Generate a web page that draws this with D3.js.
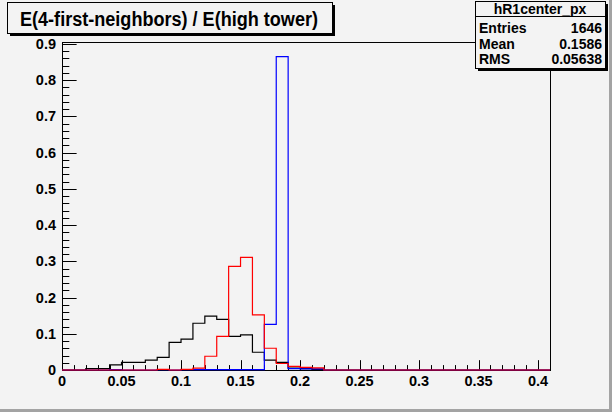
<!DOCTYPE html>
<html><head><meta charset="utf-8">
<script src="https://cdn.jsdelivr.net/npm/d3@7"></script>
<style>
html,body{margin:0;padding:0;background:#f3f3f3;}
svg{display:block;}
text{font-family:"Liberation Sans",Arial,Helvetica,sans-serif;font-weight:bold;fill:#000;}
</style></head>
<body>
<script>
// ---- data ----
const binWidth = 0.01;
const xDomain = [0, 0.41];
const yMax = 0.9055;
const xTickValues = [0, 0.05, 0.1, 0.15, 0.2, 0.25, 0.3, 0.35, 0.4];
const xTickLabels = ["0", "0.05", "0.1", "0.15", "0.2", "0.25", "0.3", "0.35", "0.4"];
const yTickValues = [0, 0.1, 0.2, 0.3, 0.4, 0.5, 0.6, 0.7, 0.8, 0.9];
const yTickLabels = ["0", "0.1", "0.2", "0.3", "0.4", "0.5", "0.6", "0.7", "0.8", "0.9"];
// 41 bins, 0.00 .. 0.41
const blackValues = [0, 0, 0.004, 0.004, 0.014, 0.021, 0.021, 0.027, 0.035, 0.076,
  0.085, 0.129, 0.149, 0.140, 0.093, 0.097, 0.049, 0.027, 0.021, 0.005,
  0.004, 0.002, 0, 0, 0, 0, 0, 0, 0, 0, 0, 0, 0, 0, 0, 0, 0, 0, 0, 0, 0];
const blueValues = [0, 0, 0, 0, 0.001, 0, 0, 0, 0.001, 0,
  0.001, 0.001, 0.001, 0.001, 0.001, 0.001, 0.001, 0.126, 0.865, 0.004,
  0.003, 0.003, 0, 0, 0, 0, 0, 0, 0, 0, 0, 0, 0, 0, 0, 0, 0, 0, 0, 0, 0];
const redValues = [0, 0, 0, 0, 0, 0, 0, 0, 0.002, 0,
  0.002, 0.005, 0.038, 0.093, 0.286, 0.311, 0.152, 0.060, 0.018, 0.010,
  0.007, 0.006, 0, 0, 0, 0, 0, 0, 0, 0, 0, 0, 0, 0, 0, 0, 0, 0, 0, 0, 0];
const titleText = "E(4-first-neighbors) / E(high tower)";
const statsName = "hR1center_px";
const statsLabels = ["Entries", "Mean", "RMS"];
const statsValues = ["1646", "0.1586", "0.05638"];

(function () {
// ---- layout ----
const W = 612, H = 412;
const pL = 62, pR = 550, pT = 42, pB = 370;

const svg = d3.select("body").append("svg").attr("width", W).attr("height", H);
svg.append("rect").attr("x", 0).attr("y", 0).attr("width", W).attr("height", H).attr("fill", "#f3f3f3");
// canvas bevel
svg.append("rect").attr("x", W - 3).attr("y", 0).attr("width", 3).attr("height", H).attr("fill", "#a3a3a3");
svg.append("rect").attr("x", 0).attr("y", H - 3).attr("width", W).attr("height", 3).attr("fill", "#a3a3a3");

const x = d3.scaleLinear().domain(xDomain).range([pL, pR]);
const y = d3.scaleLinear().domain([0, yMax]).range([pB, pT]);

// frame
svg.append("rect").attr("x", pL + 0.5).attr("y", pT + 0.5)
  .attr("width", pR - pL).attr("height", pB - pT)
  .attr("fill", "none").attr("stroke", "#000").attr("stroke-width", 1);

// ticks
const plotH = pB - pT, plotW = pR - pL;
const xMajorLen = 0.03 * plotH, yMajorLen = 0.03 * plotW;
const xMinor = d3.range(0, 42).map(i => i * 0.01);
const yMinor = d3.range(0, 46).map(i => i * 0.02).filter(v => v <= yMax);
const tg = svg.append("g").attr("stroke", "#000").attr("stroke-width", 1);
xMinor.forEach(v => {
  const isMajor = xTickValues.some(t => Math.abs(t - v) < 1e-9);
  const px = Math.round(x(v)) + 0.5;
  tg.append("line").attr("x1", px).attr("x2", px).attr("y1", pB)
    .attr("y2", pB - (isMajor ? xMajorLen : xMajorLen / 2));
});
yMinor.forEach(v => {
  const isMajor = yTickValues.some(t => Math.abs(t - v) < 1e-9);
  const py = Math.round(y(v)) + 0.5;
  tg.append("line").attr("x1", pL).attr("x2", pL + (isMajor ? yMajorLen : yMajorLen / 2))
    .attr("y1", py).attr("y2", py);
});

// tick labels
xTickValues.forEach((v, i) => {
  svg.append("text").attr("x", x(v)).attr("y", 386).attr("text-anchor", "middle")
    .attr("font-size", 14.5).text(xTickLabels[i]);
});
yTickValues.forEach((v, i) => {
  svg.append("text").attr("x", 56).attr("y", y(v) + 5).attr("text-anchor", "end")
    .attr("font-size", 14.5).text(yTickLabels[i]);
});

// histograms
function histPath(vals) {
  let d = `M${x(0)},${y(0)}`;
  vals.forEach((v, i) => {
    d += `L${x(i * binWidth)},${y(v)}L${x((i + 1) * binWidth)},${y(v)}`;
  });
  d += `L${x(vals.length * binWidth)},${y(0)}`;
  return d;
}
[[blackValues, "#000"], [blueValues, "#0000ff"], [redValues, "#ff0000"]].forEach(([vals, c]) => {
  svg.append("path").attr("d", histPath(vals)).attr("fill", "none")
    .attr("stroke", c).attr("stroke-width", 1.2);
});

// title box
svg.append("rect").attr("x", 10).attr("y", 5).attr("width", 325).attr("height", 31).attr("fill", "#000");
svg.append("rect").attr("x", 7.5).attr("y", 2.5).attr("width", 325).attr("height", 31)
  .attr("fill", "#f3f3f3").attr("stroke", "#000").attr("stroke-width", 1);
svg.append("text").attr("x", 169).attr("y", 25.5).attr("text-anchor", "middle")
  .attr("font-size", 20).attr("textLength", 298).attr("lengthAdjust", "spacingAndGlyphs")
  .text(titleText);

// stats box
const sx = 475, sy = 1, sw = 130, sh = 67;
svg.append("rect").attr("x", sx + 3).attr("y", sy + 3).attr("width", sw).attr("height", sh).attr("fill", "#000");
svg.append("rect").attr("x", sx + 0.5).attr("y", sy + 0.5).attr("width", sw).attr("height", sh)
  .attr("fill", "#f3f3f3").attr("stroke", "#000").attr("stroke-width", 1);
svg.append("line").attr("x1", sx).attr("x2", sx + sw).attr("y1", 16.5).attr("y2", 16.5)
  .attr("stroke", "#000");
svg.append("text").attr("x", sx + sw / 2).attr("y", 14).attr("text-anchor", "middle")
  .attr("font-size", 14).text(statsName);
statsLabels.forEach((l, i) => {
  const by = 33 + i * 15.5;
  svg.append("text").attr("x", sx + 4).attr("y", by).attr("font-size", 14).text(l);
  svg.append("text").attr("x", sx + sw - 3).attr("y", by).attr("text-anchor", "end")
    .attr("font-size", 14).text(statsValues[i]);
});
})();
</script>
</body></html>
